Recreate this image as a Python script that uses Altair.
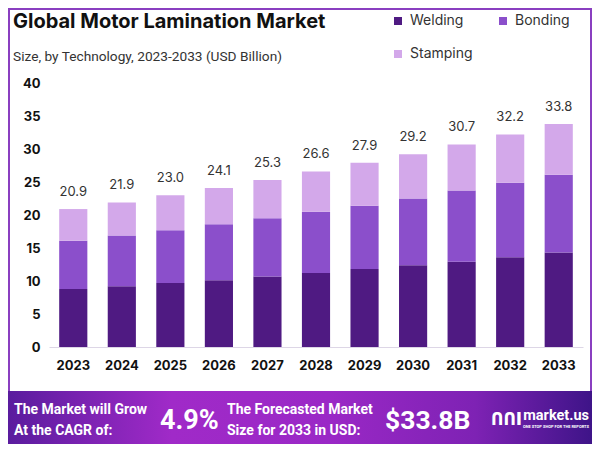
import altair as alt
import pandas as pd

years = ["2023", "2024", "2025", "2026", "2027", "2028", "2029", "2030", "2031", "2032", "2033"]
welding = [8.8, 9.2, 9.7, 10.1, 10.7, 11.2, 11.8, 12.4, 12.9, 13.6, 14.3]
bonding = [7.3, 7.7, 8.0, 8.5, 8.8, 9.3, 9.6, 10.1, 10.8, 11.3, 11.8]
stamping = [4.8, 5.0, 5.3, 5.5, 5.8, 6.1, 6.5, 6.7, 7.0, 7.3, 7.7]
totals = [20.9, 21.9, 23.0, 24.1, 25.3, 26.6, 27.9, 29.2, 30.7, 32.2, 33.8]
segments = ["Welding", "Bonding", "Stamping"]
seg_colors = ["#4F1A82", "#8B4FCB", "#D3A8EA"]
y_ticks = [0, 5, 10, 15, 20, 25, 30, 35, 40]

title_text = "Global Motor Lamination Market"
subtitle_text = "Size, by Technology, 2023-2033 (USD Billion)"
cagr_lines = ["The Market will Grow", "At the CAGR of:"]
cagr_value = "4.9%"
fc_lines = ["The Forecasted Market", "Size for 2033 in USD:"]
fc_value = "$33.8B"

FONT = "Inter"
BFONT = "Roboto"

rows = []
for i, yr in enumerate(years):
    for j, (seg, vals) in enumerate(zip(segments, [welding, bonding, stamping])):
        rows.append({"year": yr, "segment": seg, "value": vals[i], "order": j})
df = pd.DataFrame(rows)
tot_df = pd.DataFrame({"year": years, "total": totals})

xscale = alt.Scale(paddingInner=0.42, paddingOuter=0.21)
yscale = alt.Scale(domain=[0, 40])

xaxis = alt.Axis(title=None, labelAngle=0, ticks=False, domainColor="#DDD6E6",
                 labelFont=FONT, labelFontSize=13, labelFontWeight="bold",
                 labelColor="#111111", labelPadding=12, zindex=1)
yaxis = alt.Axis(title=None, values=y_ticks, grid=False, ticks=False, domain=False,
                 labelFont=FONT, labelFontSize=13, labelFontWeight="bold",
                 labelColor="#111111", labelPadding=9, zindex=1,
                 labelOverlap=False, tickCount=9)

frame = alt.Chart(pd.DataFrame({"a": [0]})).mark_rect(
    fill="white", stroke="#8A3FC0", strokeWidth=2
).encode(x=alt.value(-40), x2=alt.value(542), y=alt.value(-74), y2=alt.value(309))

banner = alt.Chart(pd.DataFrame({"a": [0]})).mark_rect(
    color=alt.LinearGradient(
        gradient="linear", x1=0, x2=1, y1=0, y2=0,
        stops=[
            alt.GradientStop(color="#5A1C9E", offset=0),
            alt.GradientStop(color="#A02AC8", offset=0.28),
            alt.GradientStop(color="#9A28C6", offset=0.55),
            alt.GradientStop(color="#7E22B4", offset=0.8),
            alt.GradientStop(color="#3E1488", offset=1),
        ],
    )
).encode(x=alt.value(-41), x2=alt.value(543), y=alt.value(308), y2=alt.value(361))

bars = alt.Chart(df).mark_bar().encode(
    x=alt.X("year:N", scale=xscale, sort=years, axis=xaxis),
    y=alt.Y("value:Q", stack="zero", scale=yscale, axis=yaxis),
    color=alt.Color("segment:N", sort=segments,
                    scale=alt.Scale(domain=segments, range=seg_colors),
                    legend=alt.Legend(title=None, orient="none", legendX=342, legendY=-69,
                                      direction="horizontal", columns=2, columnPadding=23,
                                      rowPadding=19, symbolType="square", symbolSize=64,
                                      symbolStrokeWidth=0, labelFont=FONT, labelFontSize=14,
                                      labelColor="#333333", labelOffset=5)),
    order=alt.Order("order:Q", sort="ascending"),
)

labels = alt.Chart(tot_df).mark_text(
    font=FONT, fontSize=13, color="#333333", baseline="alphabetic", dy=-13
).encode(
    x=alt.X("year:N", scale=xscale, sort=years, axis=xaxis),
    y=alt.Y("total:Q", scale=yscale, axis=yaxis),
    text=alt.Text("total:Q", format=".1f"),
)


def txt(s, x, y, size, weight="normal", color="#111111", align="left", baseline="middle", font=FONT):
    return alt.Chart(pd.DataFrame({"t": [s]})).mark_text(
        font=font, fontSize=size, fontWeight=weight, color=color, align=align, baseline=baseline
    ).encode(text="t:N", x=alt.value(x), y=alt.value(y))


texts = [
    txt(title_text, -36, -61, 20, "bold", "#111111"),
    txt(subtitle_text, -36, -26, 13.7, "normal", "#333333", font=BFONT),
    txt(cagr_lines[0], -35, 327, 14, "bold", "white", font=BFONT),
    txt(cagr_lines[1], -35, 348, 14, "bold", "white", font=BFONT),
    txt(cagr_value, 111, 338, 27, "bold", "white", font=BFONT),
    txt(fc_lines[0], 178, 327, 14, "bold", "white", font=BFONT),
    txt(fc_lines[1], 178, 348, 14, "bold", "white", font=BFONT),
    txt(fc_value, 336, 338, 26.5, "bold", "white", font=BFONT),
    txt("ՈՈI", 442, 337, 17, "bold", "white", font="DejaVu Sans"),
    txt("market.us", 540, 333, 14.5, "bold", "white", align="right", font=BFONT),
    txt("ONE STOP SHOP FOR THE REPORTS", 540, 344, 4, "bold", "white", align="right", font=BFONT),
]

chart = alt.layer(frame, banner, bars, labels, *texts).properties(
    width=534, height=264,
    autosize=alt.AutoSizeParams(type="none"),
    padding={"left": 41, "top": 75, "right": 9, "bottom": 97},
).configure_view(stroke=None)

chart.save("out.html", embed_options={"renderer": "svg", "actions": False})
